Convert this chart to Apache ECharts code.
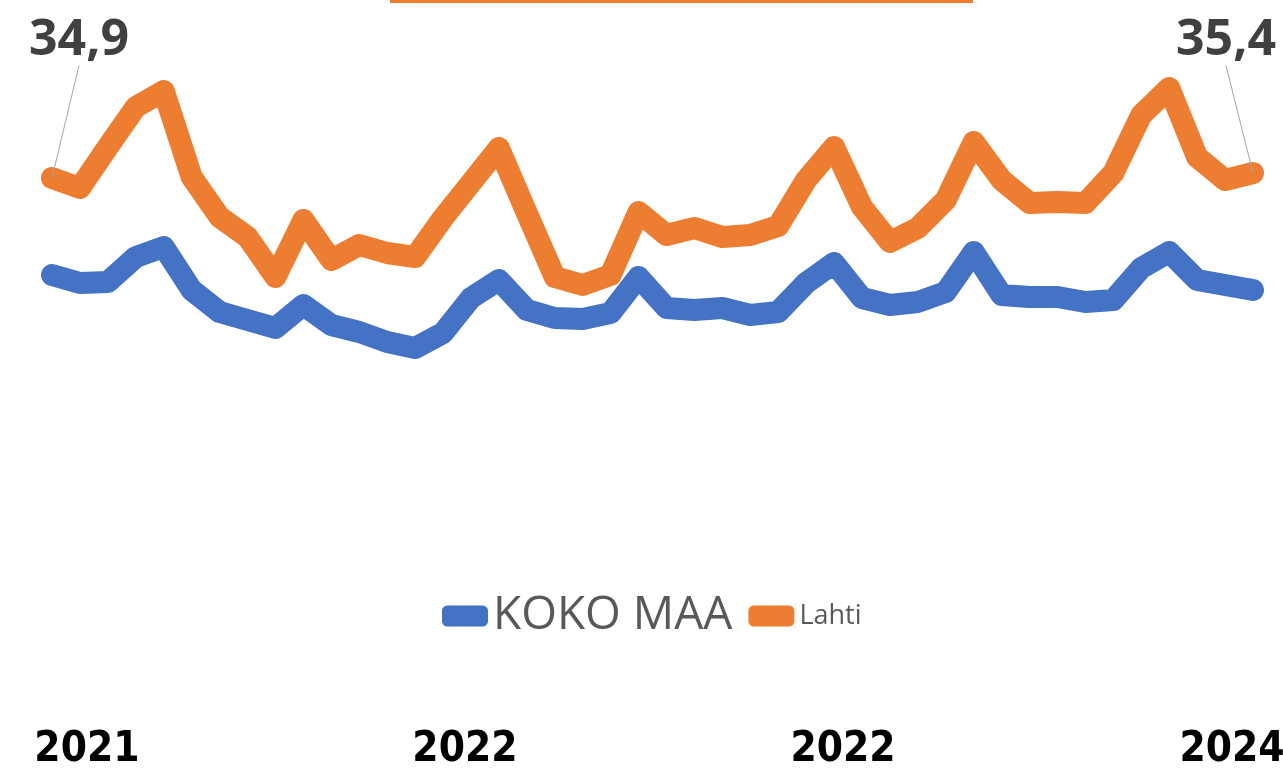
<!DOCTYPE html>
<html>
<head>
<meta charset="utf-8">
<script src="https://cdn.jsdelivr.net/npm/echarts@6/dist/echarts.min.js"></script>
<style>
html,body{margin:0;padding:0;background:#fff;}
#chart{width:1283px;height:773px;}
</style>
</head>
<body>
<div id="chart"></div>
<script>
// 44 monthly observations
const categories = Array.from({length: 44}, (_, i) => 'k' + (i + 1));
const tickLabelIndex = [1, 15, 28, 42];
const tickLabels = ['2021', '2022', '2022', '2024'];

const kokoMaa = [25.2, 24.4, 24.5, 27.0, 28.0, 23.7, 21.5, 20.7, 19.9, 22.2,
  20.2, 19.5, 18.5, 17.9, 19.4, 22.9, 24.7, 21.7, 20.9, 20.8,
  21.4, 25.0, 21.9, 21.7, 21.9, 21.2, 21.5, 24.4, 26.4, 22.9,
  22.2, 22.5, 23.5, 27.5, 23.2, 23.0, 23.0, 22.5, 22.7, 25.9,
  27.5, 24.7, 24.2, 23.7];

const lahti = [34.9, 33.9, 38.0, 42.0, 43.6, 35.0, 31.0, 29.0, 25.0, 30.7,
  26.7, 28.2, 27.4, 27.0, 30.9, 34.4, 37.9, 31.4, 25.0, 24.2,
  25.2, 31.5, 29.2, 29.9, 29.0, 29.2, 30.1, 34.7, 38.0, 32.0,
  28.5, 29.9, 32.7, 38.5, 34.7, 32.4, 32.5, 32.4, 35.4, 41.2,
  43.9, 37.0, 34.7, 35.4];

const seriesNames = ['KOKO MAA', 'Lahti'];

// label nudges (styling only): left/right padding per tick label
const tickPad = [[0, 0, 0, 14], [0, 12, 0, 0], [0, 0, 0, 18], [0, 0, 0, 14]];

const chart = echarts.init(document.getElementById('chart'));
const fmt = v => v.toFixed(1).replace('.', ',');
const lastIdx = lahti.length - 1;

const lahtiData = lahti.map((v, i) => (i === 0 || i === lastIdx)
  ? {value: v, label: {show: true}, labelLine: {show: true}}
  : v);

const tickFont = {
  fontSize: 42,
  fontWeight: 'bold',
  color: '#000000',
  fontFamily: "'DejaVu Sans Condensed', sans-serif"
};
const richTicks = {};
tickPad.forEach((p, k) => { richTicks['t' + k] = Object.assign({padding: p}, tickFont); });

chart.setOption({
  animation: false,
  backgroundColor: '#ffffff',
  graphic: [{
    type: 'rect',
    shape: {x: 390, y: 0, width: 583, height: 3},
    style: {fill: '#ED7D31'}
  }],
  grid: {left: 52, right: 30, top: 27, height: 500, containLabel: false, outerBoundsMode: 'none'},
  legend: {
    left: 437,
    top: 588,
    itemWidth: 46,
    itemHeight: 21,
    itemGap: 16,
    icon: 'roundRect',
    data: seriesNames,
    formatter: name => name === 'KOKO MAA' ? '{a|' + name + '}' : '{b|' + name + '}',
    textStyle: {
      rich: {
        a: {fontSize: 46, color: '#595959', fontFamily: 'Open Sans'},
        b: {fontSize: 27, color: '#595959', fontFamily: 'Open Sans'}
      }
    }
  },
  xAxis: {
    type: 'category',
    data: categories,
    boundaryGap: false,
    axisLine: {show: false},
    axisTick: {show: false},
    splitLine: {show: false},
    axisLabel: Object.assign({
      interval: (idx) => tickLabelIndex.indexOf(idx) >= 0,
      formatter: (val, idx) => {
        const k = tickLabelIndex.indexOf(idx);
        return k >= 0 ? '{t' + k + '|' + tickLabels[k] + '}' : '';
      },
      margin: 202,
      hideOverlap: false,
      rich: richTicks
    }, tickFont)
  },
  yAxis: {
    type: 'value',
    min: 0,
    max: 50,
    show: false,
    splitLine: {show: false}
  },
  series: [
    {
      name: 'KOKO MAA',
      type: 'line',
      data: kokoMaa,
      symbol: 'none',
      color: '#4472C4',
      lineStyle: {width: 22, color: '#4472C4', cap: 'round', join: 'round'}
    },
    {
      name: 'Lahti',
      type: 'line',
      data: lahtiData,
      symbol: 'circle',
      symbolSize: 1,
      showSymbol: true,
      itemStyle: {color: '#ED7D31'},
      color: '#ED7D31',
      lineStyle: {width: 22, color: '#ED7D31', cap: 'round', join: 'round'},
      label: {
        show: false,
        position: 'top',
        formatter: p => fmt(p.value),
        fontSize: 50,
        fontWeight: 'bold',
        fontFamily: 'Open Sans',
        color: '#404040'
      },
      labelLine: {show: true, lineStyle: {color: '#A6A6A6', width: 1}},
      labelLayout: (params) => {
        if (params.dataIndex === 0) return {dx: 27, dy: -107};
        if (params.dataIndex === lastIdx) return {dx: -27, dy: -102};
        return {};
      }
    }
  ]
});
</script>
</body>
</html>
